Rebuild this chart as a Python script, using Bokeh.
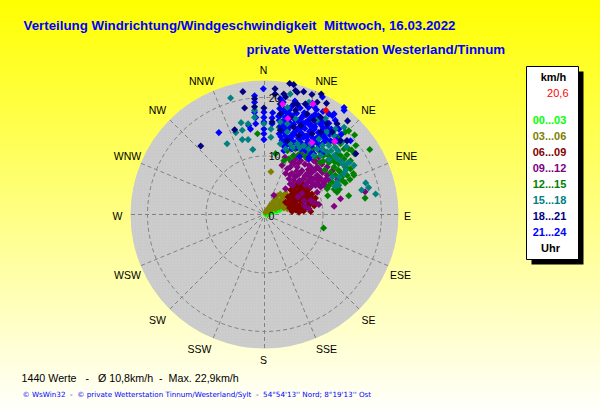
from math import pi, sin, cos
from bokeh.plotting import figure
from bokeh.models import Range1d
from bokeh.core.properties import value
from bokeh.embed import file_html
from bokeh.resources import INLINE

# wind vectors: km/h towards east / north of the plot centre
h00_e = [0.5,1.0,1.6,2.5,2.7,0.7,1.3,2.1,2.5,1.9,0.2]
h00_n = [0.1,0.3,0.6,0.8,0.9,0.3,0.5,0.7,2.3,0.9,0.1]
h03_e = [0.2,0.5,0.7,1.0,1.3,1.6,1.9,2.2,2.7,3.3,3.6,3.0,2.5,1.9,1.3,0.7,2.7,3.3,3.6,3.9,3.3,2.5,1.9,4.2,3.9,4.7,5.6,6.4,7.3,6.8,5.9,1.1]
h03_n = [0.4,0.8,1.1,1.5,1.8,2.3,2.7,3.2,3.5,3.2,3.6,2.7,2.1,1.5,1.0,0.5,1.8,2.1,1.5,1.0,1.1,1.3,1.0,3.0,2.4,4.1,4.7,5.2,5.8,6.1,3.8,7.3]
h06_e = [4.7,5.3,5.9,6.4,7.0,7.6,8.1,7.9,7.3,6.7,6.2,5.6,5.0,4.4,4.0,4.3,4.9,5.5,6.0,6.6,7.2,7.7,8.3,8.5,7.9,7.0,6.4,5.9,5.3,4.7,3.6,6.2,5.6,5.3,6.2,7.0,5.6,
         4.0,4.5,5.0,5.8,6.6,7.4,8.7,6.0,5.0,4.4,5.4,6.3,6.8,7.5,8.0,8.8,4.8,5.7,6.5,7.2,5.5,6.2,7.4,6.7]
h06_n = [3.5,3.8,4.1,4.4,4.7,4.4,3.5,3.0,3.8,3.5,3.2,3.0,2.7,2.4,1.8,1.1,1.5,1.8,1.5,2.1,2.4,1.8,2.3,1.5,0.5,1.1,0.8,0.4,0.8,0.5,2.1,5.0,5.2,4.7,2.4,3.0,1.5,
         3.0,4.2,4.6,5.0,5.2,3.1,2.8,2.6,1.9,1.7,2.4,3.9,2.7,2.2,2.6,1.9,3.2,3.4,4.2,4.1,1.1,0.9,1.4,0.6]
h09_e = [1.6,11.9,13.0,17.2,9.3,8.4,7.6,3.9,4.4,5.0,5.6,4.7,5.6,6.4,7.3,8.1,9.0,9.9,10.7,11.0,10.1,9.3,8.4,7.6,6.7,5.9,5.0,4.2,3.6,4.4,7.0,7.9,8.7,9.6,10.4,9.0,6.8,7.9,5.0,6.2,7.3,8.4,9.3,7.6,9.0,10.7,11.6,5.3,6.2,3.6,
         6.9,8.0,8.8,9.8,5.5,6.9,7.8,8.9,9.6,10.5,4.4,5.2,6.0,7.5,8.6,9.5,5.8,4.6,10.3,4.8,6.0,7.3,8.2,9.1,10.0,3.0,3.5,10.9,12.5,6.4,6.9,5.7]
h09_n = [3.3,1.4,2.7,3.9,1.7,2.1,1.0,7.8,8.1,8.7,8.1,7.0,6.7,7.5,7.0,7.2,6.7,7.2,6.7,5.8,5.5,5.8,6.1,5.8,6.1,5.5,5.8,6.1,7.0,5.2,5.0,4.7,5.0,4.7,5.0,3.8,2.3,2.4,10.1,10.4,9.5,9.2,9.8,8.4,8.1,8.1,7.5,9.5,9.2,4.4,
         8.6,8.0,9.0,8.6,7.4,6.6,6.4,6.0,6.2,6.0,6.8,6.4,7.0,7.7,7.6,7.6,8.8,9.0,7.5,5.0,5.8,5.4,5.4,5.2,5.1,8.4,9.8,9.3,6.0,3.6,1.4,3.0]
h12_e = [10.1,18.0,17.2,14.4,10.8,-1.2,1.9,15.4,14.4,15.2,12.4,10.7,11.6,12.4,13.3,12.1,13.0,14.1,15.3,14.7,13.8,12.7,11.9,11.0,13.6,14.7,15.4,15.6,14.4,13.6,12.4,11.6,10.1,9.3,8.4,7.6,6.4,5.3,3.9,3.3,4.2,2.5,3.3,6.2,10.7,12.4,13.8,10.1,
         10.0,11.0,12.0,13.0,14.0,13.2,12.6,14.6,11.3,10.3,9.5,8.6,6.9,5.8,4.9,11.9,11.0,12.8,13.8,14.1,14.9,13.0,11.8,9.2,8.0,7.2]
h12_n = [-2.3,11.1,2.8,3.2,3.2,13.8,10.4,13.6,14.3,7.0,3.8,4.4,5.5,5.0,5.8,6.7,7.2,6.7,6.7,7.8,8.1,8.7,8.1,8.9,9.5,9.2,10.4,11.8,11.2,11.2,10.4,9.5,10.1,10.9,11.2,10.4,10.9,11.2,10.9,9.2,9.5,14.9,12.4,12.1,12.6,13.2,14.1,13.5,
         9.1,10.0,9.0,10.1,8.0,6.4,7.6,6.0,7.2,7.6,8.9,9.9,9.9,10.2,10.0,4.3,4.9,4.3,5.4,10.2,11.0,12.1,12.4,12.0,10.9,11.7]
h15_e = [-5.8,-4.0,-6.4,-2.0,-3.8,-4.9,-3.8,-2.8,-2.8,-1.7,-1.7,1.1,1.1,-0.1,17.3,16.6,17.8,19.0,4.4,7.6,12.1,12.4,11.6,13.6,15.3,14.1,13.0,11.9,10.7,9.6,8.4,9.9,11.0,12.1,13.3,11.9,10.7,9.3,7.9,6.7,5.6,4.4,3.6,2.7,3.9,3.9,5.3,3.9,2.7,9.0,10.4,12.1,13.6,
         11.0,12.3,13.5,14.5,10.0,11.4,12.6,14.0,9.0,7.5,6.0,4.8,12.8,13.9,12.7]
h15_n = [19.9,15.7,12.1,11.1,14.4,14.0,12.8,12.8,15.5,17.8,16.6,14.6,13.2,15.5,5.4,4.2,4.6,3.5,20.6,19.2,4.8,5.5,6.4,7.0,8.4,8.7,9.2,10.1,10.7,10.1,10.1,11.8,11.8,11.5,12.4,13.5,14.1,12.9,12.1,11.8,12.1,12.1,11.2,12.1,14.1,15.5,16.4,18.3,15.8,16.1,16.4,14.6,14.9,
         9.4,9.6,8.5,8.9,11.1,10.9,10.9,11.6,11.2,11.2,11.4,11.4,6.4,7.6,5.0]
h18_e = [4.3,5.0,1.8,-3.7,1.8,5.3,5.6,6.7,8.1,9.7,3.3,3.6,-3.4,-1.7,-0.1,-5.1,-10.9,14.2,15.6,5.0,2.7,5.6,7.0,9.0,1.3,4.4,5.3,7.3,9.6,10.7,12.4,13.0,2.7,5.0,6.2,8.1,9.6,14.1,11.6,3.9,5.9,8.4,2.7,10.6,-1.7]
h18_n = [22.4,22.2,21.5,21.0,20.6,21.2,20.9,21.0,20.5,20.6,20.6,20.1,18.2,19.8,18.2,14.5,11.7,16.0,10.4,18.9,18.9,18.9,18.9,19.2,15.8,16.6,17.8,17.2,16.6,15.5,15.5,12.6,14.4,14.9,15.2,13.8,14.1,12.6,14.1,12.6,13.5,16.1,17.2,19.0,18.4]
h21_e = [-7.8,-0.2,-1.7,-1.7,-1.7,-1.5,-1.5,-2.7,-2.4,-0.1,-0.1,-0.1,-0.1,-0.1,-0.1,1.4,1.3,1.3,13.6,9.9,13.6,11.0,11.9,2.7,
         2.6,3.2,3.9,4.6,5.2,6.1,6.8,7.5,8.2,8.9,2.4,3.1,3.6,4.2,4.9,5.5,6.3,7.1,7.8,8.6,9.4,10.0,2.9,3.5,4.3,5.0,5.8,6.6,7.3,8.0,8.8,9.6,10.3,11.0,2.5,3.3,4.0,4.8,5.4,6.2,6.9,7.7,8.5,9.2,10.0,10.8,3.0,3.8,4.5,5.2,6.0,6.7,7.4,8.2,9.0,9.8,10.5,3.4,4.4,5.6,6.4,7.0,8.0,9.1,11.3,12.0,7.6,9.7,12.9,14.1,13.1,6.0,8.0,
         3.4,5.6,7.0,8.5,2.8,3.3,4.4,5.1,5.9,6.6,7.4,8.1,9.0,9.9,2.5,3.9,4.6,5.4,6.2,7.0,7.7,8.5,9.2,10.6,11.4,2.7,3.2,4.1,4.9,5.6,6.4,7.1,7.9,8.6,9.4,10.1,10.9,2.8,3.6,4.3,5.1,5.8,6.6,7.3,8.1,8.8,9.5,10.3,11.1,3.2,4.0,4.8,6.3,7.2,8.5,9.3,10.1,
         12.4,14.7,12.1,11.6,10.1,7.6,11.3,12.7,8.4,6.2,4.7,3.3]
h21_n = [14.0,21.5,20.3,19.2,17.5,16.6,15.5,15.2,14.6,17.5,16.6,15.8,14.6,13.8,12.8,17.4,16.5,15.5,17.8,20.1,18.3,17.2,17.2,19.8,
         18.1,19.2,17.3,18.4,19.4,18.2,17.4,18.3,19.0,17.9,16.8,15.9,16.6,17.8,16.9,17.3,16.5,17.0,16.4,17.1,16.7,17.6,14.9,15.2,15.7,15.4,15.9,15.6,15.9,15.3,15.8,15.4,16.0,15.6,13.8,14.1,14.5,13.6,14.4,14.0,14.7,14.2,14.6,14.0,14.8,14.3,12.7,12.9,13.0,12.3,12.8,13.2,12.6,13.1,12.7,13.3,12.9,11.6,11.9,11.4,12.0,10.9,11.7,11.3,12.6,13.4,9.8,10.9,12.6,12.6,13.7,9.9,10.4,
         18.0,18.7,18.9,18.4,17.0,17.6,17.1,16.3,16.1,16.9,15.8,16.7,16.0,15.9,16.1,16.0,15.2,16.2,14.9,15.7,15.3,16.3,16.9,15.0,14.6,15.1,14.7,14.9,13.9,14.6,14.9,13.4,14.3,15.0,13.5,13.8,14.2,13.3,13.5,13.2,13.7,13.1,13.6,13.4,13.8,13.0,13.5,13.2,13.7,12.2,12.0,12.4,12.2,12.1,12.4,12.0,12.3,
         12.6,12.6,16.1,16.9,10.7,9.5,14.1,14.6,10.4,11.2,11.2,10.9]
peak_e = [3.1,8.3,4.0,8.1,12.0]
peak_n = [18.9,18.9,16.4,12.3,12.5]
last_e = [10.5]
last_n = [17.8]

series = [(h00_e,h00_n,"#00FF00"),(h03_e,h03_n,"#808000"),(h06_e,h06_n,"#800000"),(h09_e,h09_n,"#800080"),
          (h12_e,h12_n,"#008000"),(h21_e,h21_n,"#0000FF"),(h15_e,h15_n,"#008080"),(h18_e,h18_n,"#000080"),
          (peak_e,peak_n,"#FF00FF"),(last_e,last_n,"#FF0000")]
rings = [10, 20]
v_max = 22.9
directions = ["N","NNE","NE","ENE","E","ESE","SE","SSE","S","SSW","SW","WSW","W","WNW","NW","NNW"]
dir_label_px = [(263,69),(326,80),(368,109),(406,155),(407,215),(400,274),(368,319),(326,348),(263,359),(199,348),(157,319),(127,274),(117,215),(127,155),(157,109),(201,80)]
radial_labels = [("0",271,215),("10",274,155),("20",274,97)]
legend_ranges = ["00...03","03...06","06...09","09...12","12...15","15...18","18...21","21...24"]
legend_colors = ["#00FF00","#808000","#800000","#800080","#008000","#008080","#000080","#0000FF"]

W, H = 600, 415
cx, cy, scale = 264, 214, 5.85
p = figure(width=W, height=H, output_backend="svg", toolbar_location=None,
           x_range=Range1d(0, W), y_range=Range1d(H, 0), min_border=0,
           outline_line_color=None, background_fill_alpha=0, border_fill_alpha=0,
           extra_x_ranges={"v": Range1d(-cx/scale, (W-cx)/scale)},
           extra_y_ranges={"v": Range1d(-(H-cy)/scale, cy/scale)})
p.xaxis.visible = False
p.yaxis.visible = False
p.grid.visible = False
p.styles = {"position": "absolute", "left": "0", "top": "0",
            "background": "linear-gradient(#ffff00, #ffffff)"}
V = dict(x_range_name="v", y_range_name="v")

p.circle([0],[0],radius=v_max,fill_color="#CACACA",line_color=None,
         hatch_pattern="dot",hatch_color="#D2D2D2",hatch_scale=3,hatch_weight=1,**V)
for r in rings:
    p.circle([0],[0],radius=r,fill_color=None,line_color="#808080",line_width=1,line_dash="4 3",**V)
angles = [i*pi/8 for i in range(16)]
r0 = 0.6
p.segment([r0*sin(a) for a in angles],[r0*cos(a) for a in angles],
          [v_max*sin(a) for a in angles],[v_max*cos(a) for a in angles],
          line_color="#808080",line_width=1,line_dash="4 3",**V)

for e, n, c in series:
    p.scatter(e, n, marker="square", angle=pi/4, size=5, fill_color=c, line_color=None, **V)

def label(t, x, y, color="black", size="10px", style="normal", align="center", font="Liberation Sans"):
    p.text([x],[y],text=[t.replace(" ", "\u00a0")],text_color=color,text_font=value(font),text_font_size=size,
           text_font_style=style,text_align=align,text_baseline="middle")

for t,(x,y) in zip(directions,dir_label_px):
    label(t,x,y,size="10.5px")
for t,x,y in radial_labels:
    label(t,x,y,size="10.5px")

label("Verteilung Windrichtung/Windgeschwindigkeit  Mittwoch, 16.03.2022",23,25,"#0000FF","13.3px","bold","left")
label("private Wetterstation Westerland/Tinnum",246,49,"#0000FF","13.3px","bold","left")
label("1440 Werte   -   Ø 10,8km/h  -  Max. 22,9km/h",21,377,"black","10.7px","normal","left")
label("© WsWin32  -  © private Wetterstation Tinnum/Westerland/Sylt  -  54°54'13'' Nord; 8°19'13'' Ost",22,394,"#0000FF","7.2px","normal","left","DejaVu Sans")

p.quad(left=[531],right=[583],top=[71],bottom=[264],fill_color="black",line_color=None)
p.quad(left=[526],right=[578],top=[66],bottom=[259],fill_color="white",line_color="black",line_width=1)
label("km/h",553,76,"black","11px","bold")
label("20,6",568,92,"#FF0000","11px","normal","right")
for i,(t,c) in enumerate(zip(legend_ranges,legend_colors)):
    label(t,549,119+16*i,c,"11px","bold")
label("Uhr",550,247,"black","11px","bold")

open("out.html","w").write(file_html(p, INLINE))
